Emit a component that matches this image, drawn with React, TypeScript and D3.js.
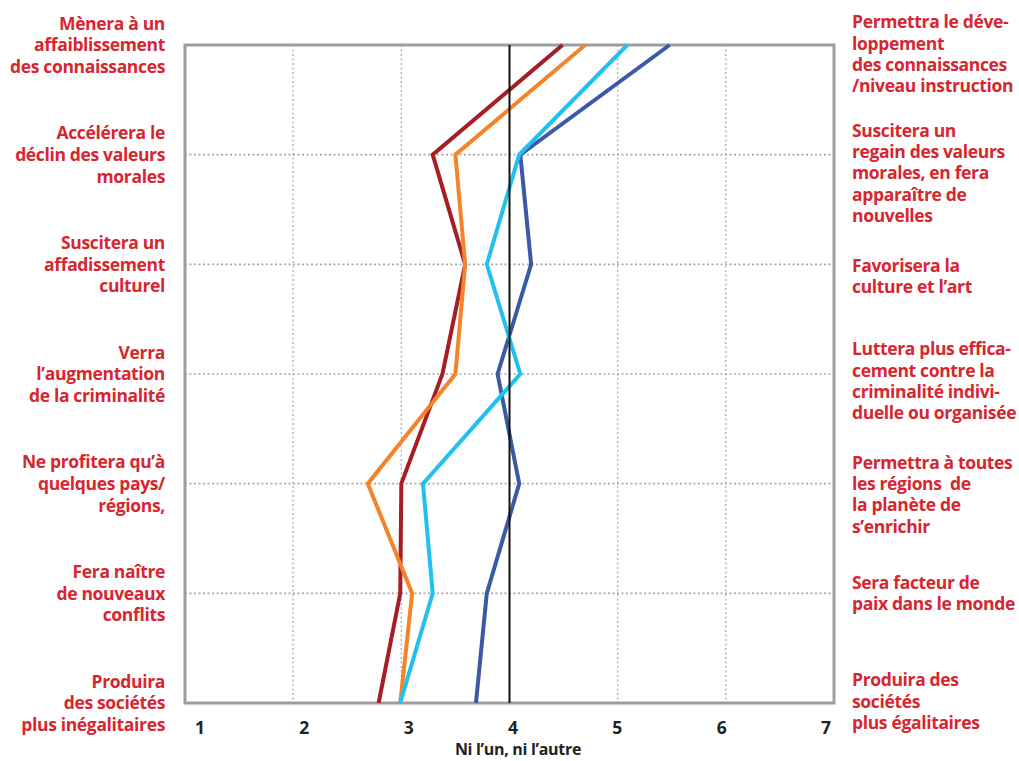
import React from "react";
import * as d3 from "d3";

// ---------- data ----------
const leftLabels: string[][] = [
  ["Mènera à un", "affaiblissement", "des connaissances"],
  ["Accélérera le", "déclin des valeurs", "morales"],
  ["Suscitera un", "affadissement", "culturel"],
  ["Verra", "l\u2019augmentation", "de la criminalité"],
  ["Ne profitera qu\u2019à", "quelques pays/", "régions,"],
  ["Fera naître", "de nouveaux", "conflits"],
  ["Produira", "des sociétés", "plus inégalitaires"],
];

const rightLabels: string[][] = [
  ["Permettra le déve-", "loppement", "des connaissances", "/niveau instruction"],
  ["Suscitera un", "regain des valeurs", "morales, en fera", "apparaître de", "nouvelles"],
  ["Favorisera la", "culture et l\u2019art"],
  ["Luttera plus effica-", "cement contre la", "criminalité indivi-", "duelle ou organisée"],
  ["Permettra à toutes", "les régions  de", "la planète de", "s\u2019enrichir"],
  ["Sera facteur de", "paix dans le monde"],
  ["Produira des", "sociétés", "plus égalitaires"],
];

const xTicks = [1, 2, 3, 4, 5, 6, 7];
const xTitle = "Ni l\u2019un, ni l\u2019autre";

const seriesRed = [4.49, 3.29, 3.59, 3.38, 3.0, 2.99, 2.79];
const seriesOrange = [4.7, 3.5, 3.59, 3.5, 2.69, 3.1, 2.99];
const seriesLightBlue = [5.09, 4.09, 3.79, 4.1, 3.2, 3.29, 2.99];
const seriesDarkBlue = [5.48, 4.1, 4.2, 3.89, 4.09, 3.79, 3.69];

// ---------- layout ----------
const W = 1019;
const H = 761;
const left = 185;
const right = 834;
const top = 45;
const bottom = 703;
const labelColor = "#d7262f";
const font = "'Open Sans', 'DejaVu Sans', sans-serif";
// first-line offset for right labels relative to row position
const rightFirstLineOffset = [-23, -24, 1, -25, -21, -11, -23];

const seriesDraw = [
  { values: seriesDarkBlue, color: "#3a5aa8" },
  { values: seriesRed, color: "#a61d23" },
  { values: seriesOrange, color: "#f5832a" },
  { values: seriesLightBlue, color: "#20c0ef" },
];

export default function App() {
  const x = d3.scaleLinear().domain([1, 7]).range([left, right]);
  const xLab = d3.scaleLinear().domain([1, 7]).range([200, 826]);
  const y = d3
    .scalePoint<number>()
    .domain(d3.range(leftLabels.length))
    .range([top, bottom]);

  const line = d3
    .line<number>()
    .x((d) => x(d))
    .y((_, i) => y(i) as number);

  const leftLH = 21.6;
  const rightLH = 21.2;

  return (
    <svg
      width={W}
      height={H}
      style={{ position: "absolute", left: 0, top: 0, background: "#fff" }}
      fontFamily={font}
    >
      {/* vertical grid */}
      {xTicks
        .filter((t) => t !== 1 && t !== 7 && t !== 4)
        .map((t) => (
          <line
            key={"vg" + t}
            x1={x(t)}
            x2={x(t)}
            y1={top}
            y2={bottom}
            stroke="#b4b4b4"
            strokeWidth={1.4}
            strokeDasharray="2,2.5"
          />
        ))}
      {/* horizontal grid */}
      {d3.range(1, leftLabels.length - 1).map((i) => (
        <line
          key={"hg" + i}
          x1={left}
          x2={right}
          y1={y(i)}
          y2={y(i)}
          stroke="#a8a8a8"
          strokeWidth={1.6}
          strokeDasharray="2,2.5"
        />
      ))}
      {/* frame */}
      <rect
        x={left}
        y={top}
        width={right - left}
        height={bottom - top}
        fill="none"
        stroke="#9d9ea2"
        strokeWidth={3}
      />
      {/* series */}
      {seriesDraw.map((s, k) => (
        <path
          key={"s" + k}
          d={line(s.values) || ""}
          fill="none"
          stroke={s.color}
          strokeWidth={4}
          strokeLinejoin="miter"
        />
      ))}
      {/* neutral line */}
      <line x1={x(4)} x2={x(4)} y1={top} y2={bottom} stroke="#111" strokeWidth={2} />

      {/* left labels */}
      {leftLabels.map((lines, i) => {
        const cy = y(i) as number;
        const y0 = cy - ((lines.length - 1) * leftLH) / 2;
        return (
          <text
            key={"ll" + i}
            textAnchor="end"
            fill={labelColor}
            fontSize={17.5}
            fontWeight={700}
            letterSpacing={-0.35}
          >
            {lines.map((l, j) => (
              <tspan key={j} x={165} y={y0 + j * leftLH} dy="0.36em">
                {l}
              </tspan>
            ))}
          </text>
        );
      })}
      {/* right labels */}
      {rightLabels.map((lines, i) => {
        const cy = y(i) as number;
        const y0 = cy + rightFirstLineOffset[i];
        return (
          <text
            key={"rl" + i}
            textAnchor="start"
            fill={labelColor}
            fontSize={17.5}
            fontWeight={700}
            letterSpacing={-0.35}
          >
            {lines.map((l, j) => (
              <tspan key={j} x={852} y={y0 + j * rightLH} dy="0.36em" xmlSpace="preserve">
                {l}
              </tspan>
            ))}
          </text>
        );
      })}
      {/* x tick labels */}
      {xTicks.map((t) => (
        <text
          key={"xt" + t}
          x={xLab(t)}
          y={728}
          dy="0.36em"
          textAnchor="middle"
          fontSize={17.5}
          fontWeight={700}
          fill="#222"
        >
          {t}
        </text>
      ))}
      <text
        x={518}
        y={749}
        dy="0.36em"
        textAnchor="middle"
        fontSize={16}
        fontWeight={700}
        fill="#222"
        letterSpacing={-0.3}
      >
        {xTitle}
      </text>
    </svg>
  );
}
